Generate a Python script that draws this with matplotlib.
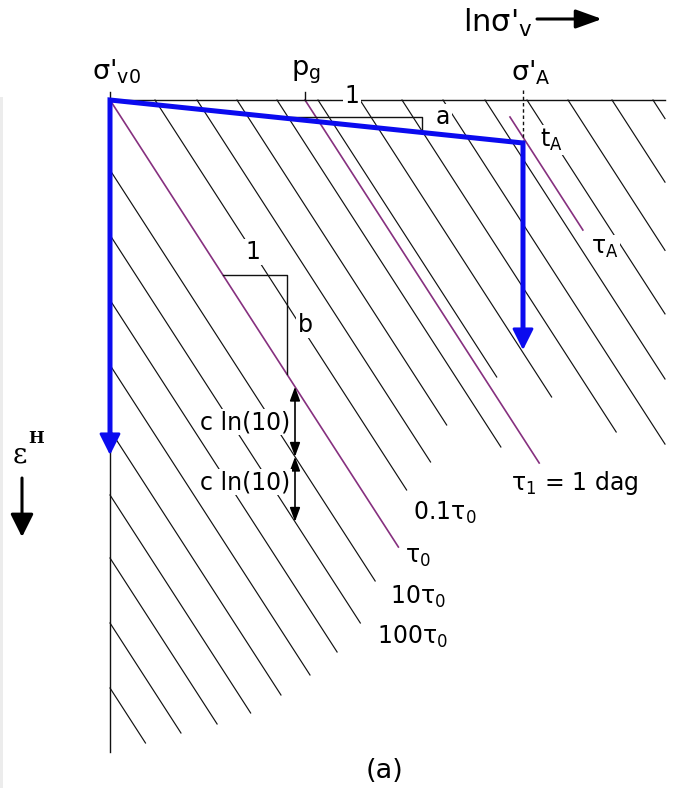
import numpy as np
import matplotlib.pyplot as plt
from matplotlib.patches import Rectangle

plt.rcParams['font.family'] = 'DejaVu Sans'
plt.rcParams['mathtext.default'] = 'regular'

# drawing units: x = ln sigma'_v, y = vertical strain (pointing down)
x_v0, x_pg, x_A = 110, 305, 523
y_top, y_A = 100, 143
y_stop_A, y_stop_v0 = 350, 455
x_right, y_bottom = 665, 752
iso_slope = 1.55          # strain per unit ln sigma along an isochrone

# isochrones leaving the top edge: intercept and strain where each one stops
iso_top_x = [155, 197, 237, 277, 318, 360, 402, 443, 485, 527, 568, 612, 653]
iso_top_stop = [490, 462, 425, 447, 377, 397, 432, 460, 460, 460, 460, 460, 460]
# isochrones leaving the sigma'_v0 edge: strain on the edge and where each one stops
iso_left_y = [170, 235, 300, 365, 430, 495, 558, 623, 688]
iso_left_stop = [581, 623, 652, 675, 695, 713, 724, 733, 743]

# reference isochrones: tau_0, tau_1 = 1 dag, tau_A
ref_x = [110, 305, 499]
ref_start = [100, 100, 117]
ref_stop = [547, 463, 230]

# slope triangles
tri_a = (422, 117)
tri_b = (287, 275)
x_cln = 295

blue = '#0b0bef'
purple = '#86307f'
ink = '#111111'


def iso_x(x0, y):
    return x0 + (y - y_top) / iso_slope


def iso_y(x0, x):
    return y_top + (x - x0) * iso_slope


fig = plt.figure(figsize=(6.74, 7.88), dpi=100)
ax = fig.add_axes([0, 0, 1, 1])
ax.set_xlim(0, 674)
ax.set_ylim(788, 0)
ax.axis('off')

ax.add_patch(Rectangle((0, 97), 3, 691, color='#ececec', lw=0))

# isochrones
x0_left = [x_v0 - (y - y_top) / iso_slope for y in iso_left_y]
for x0, y0, y1 in zip(x0_left, iso_left_y, iso_left_stop):
    ax.plot([x_v0, iso_x(x0, y1)], [y0, y1], color=ink, lw=0.85, zorder=1)
for x0, y1 in zip(iso_top_x, iso_top_stop):
    x1 = iso_x(x0, y1)
    if x1 > x_right:
        x1, y1 = x_right, iso_y(x0, x_right)
    ax.plot([x0, x1], [y_top, y1], color=ink, lw=0.85, zorder=1)
for x0, y0, y1 in zip(ref_x, ref_start, ref_stop):
    ax.plot([iso_x(x0, y0), iso_x(x0, y1)], [y0, y1], color=purple, lw=1.2, zorder=2)

# frame
ax.plot([x_v0, x_right], [y_top, y_top], color=ink, lw=1, zorder=2)
ax.plot([x_v0, x_v0], [y_top, y_bottom], color=ink, lw=1, zorder=2)
ax.plot([x_v0, x_v0], [y_top - 8, y_top], color=ink, lw=1)
ax.plot([x_pg, x_pg], [y_top - 8, y_top], color=ink, lw=1)
ax.plot([x_A, x_A], [y_top - 10, y_A], color=ink, lw=1, ls=(0, (2.5, 2)))

# slope triangles
k_a = (y_A - y_top) / (x_A - x_v0)
ax.plot([x_v0 + (tri_a[1] - y_top) / k_a, tri_a[0], tri_a[0]],
        [tri_a[1], tri_a[1], y_top + (tri_a[0] - x_v0) * k_a], color=ink, lw=1, zorder=2)
ax.plot([iso_x(ref_x[0], tri_b[1]), tri_b[0], tri_b[0]],
        [tri_b[1], tri_b[1], iso_y(ref_x[0], tri_b[0])], color=ink, lw=1, zorder=2)

# stress path
ax.plot([x_v0, x_v0, x_A, x_A], [y_stop_v0 - 15, y_top, y_A, y_stop_A - 15],
        color=blue, lw=3.6, solid_joinstyle='miter', solid_capstyle='butt', zorder=4)
for x, y in [(x_v0, y_stop_v0), (x_A, y_stop_A)]:
    ax.annotate('', xy=(x, y), xytext=(x, y - 20),
                arrowprops=dict(arrowstyle='-|>,head_length=1.0,head_width=0.5',
                                mutation_scale=13, lw=2, color=blue,
                                shrinkA=0, shrinkB=0), zorder=4)

# c ln(10) spacing between tau_0, 10 tau_0 and 100 tau_0
y_c = [iso_y(ref_x[0], x_cln), iso_y(x0_left[0], x_cln), iso_y(x0_left[1], x_cln)]
for ya, yb in zip(y_c[:-1], y_c[1:]):
    ax.annotate('', xy=(x_cln, yb), xytext=(x_cln, ya),
                arrowprops=dict(arrowstyle='<|-|>,head_length=0.6,head_width=0.22',
                                mutation_scale=14, lw=1.2, color='black',
                                shrinkA=0, shrinkB=0), zorder=3)

# axis arrows
ax.annotate('', xy=(602, 19), xytext=(537, 19),
            arrowprops=dict(arrowstyle='-|>,head_length=1.0,head_width=0.36',
                            mutation_scale=16, lw=2.2, color='black', shrinkA=0, shrinkB=0))
ax.annotate('', xy=(22, 537), xytext=(22, 478),
            arrowprops=dict(arrowstyle='-|>,head_length=1.0,head_width=0.5',
                            mutation_scale=14, lw=2.2, color='black', shrinkA=0, shrinkB=0))

box = dict(facecolor='white', edgecolor='none', pad=1.0)
fs = 17
ax.text(463, 32, "lnσ'$_v$", fontsize=22, ha='left', va='baseline')
ax.text(92, 79, "σ'$_{v0}$", fontsize=19.5, ha='left', va='baseline')
ax.text(291, 75, "p$_g$", fontsize=19.5, ha='left', va='baseline')
ax.text(511, 80, "σ'$_A$", fontsize=19.5, ha='left', va='baseline')
ax.text(352, 96, "1", fontsize=fs, ha='center', va='center', bbox=box, zorder=5)
ax.text(443, 117, "a", fontsize=fs, ha='center', va='center', bbox=box, zorder=5)
ax.text(551, 140, "t$_A$", fontsize=fs, ha='center', va='center', bbox=box, zorder=5)
ax.text(605, 248, "τ$_A$", fontsize=fs, ha='center', va='center', bbox=box, zorder=5)
ax.text(253, 252, "1", fontsize=fs, ha='center', va='center', bbox=box, zorder=5)
ax.text(305, 325, "b", fontsize=fs, ha='center', va='center', bbox=box, zorder=5)
ax.text(245, 422, "c ln(10)", fontsize=fs, ha='center', va='center', bbox=box, zorder=5)
ax.text(245, 482, "c ln(10)", fontsize=fs, ha='center', va='center', bbox=box, zorder=5)
ax.text(575, 483, "τ$_1$ = 1 dag", fontsize=fs, ha='center', va='center')
ax.text(445, 513, "0.1τ$_0$", fontsize=fs, ha='center', va='center')
ax.text(418, 557, "τ$_0$", fontsize=fs, ha='center', va='center')
ax.text(418, 597, "10τ$_0$", fontsize=fs, ha='center', va='center')
ax.text(412, 637, "100τ$_0$", fontsize=fs, ha='center', va='center')
ax.text(384, 771, "(a)", fontsize=19.5, ha='center', va='center')
ax.text(13, 462, "ε", fontsize=20, family='DejaVu Serif', ha='left', va='baseline')
ax.text(28, 443, "H", fontsize=12, family='DejaVu Serif', weight='bold', ha='left', va='baseline')

fig.savefig('out.png', dpi=100)
